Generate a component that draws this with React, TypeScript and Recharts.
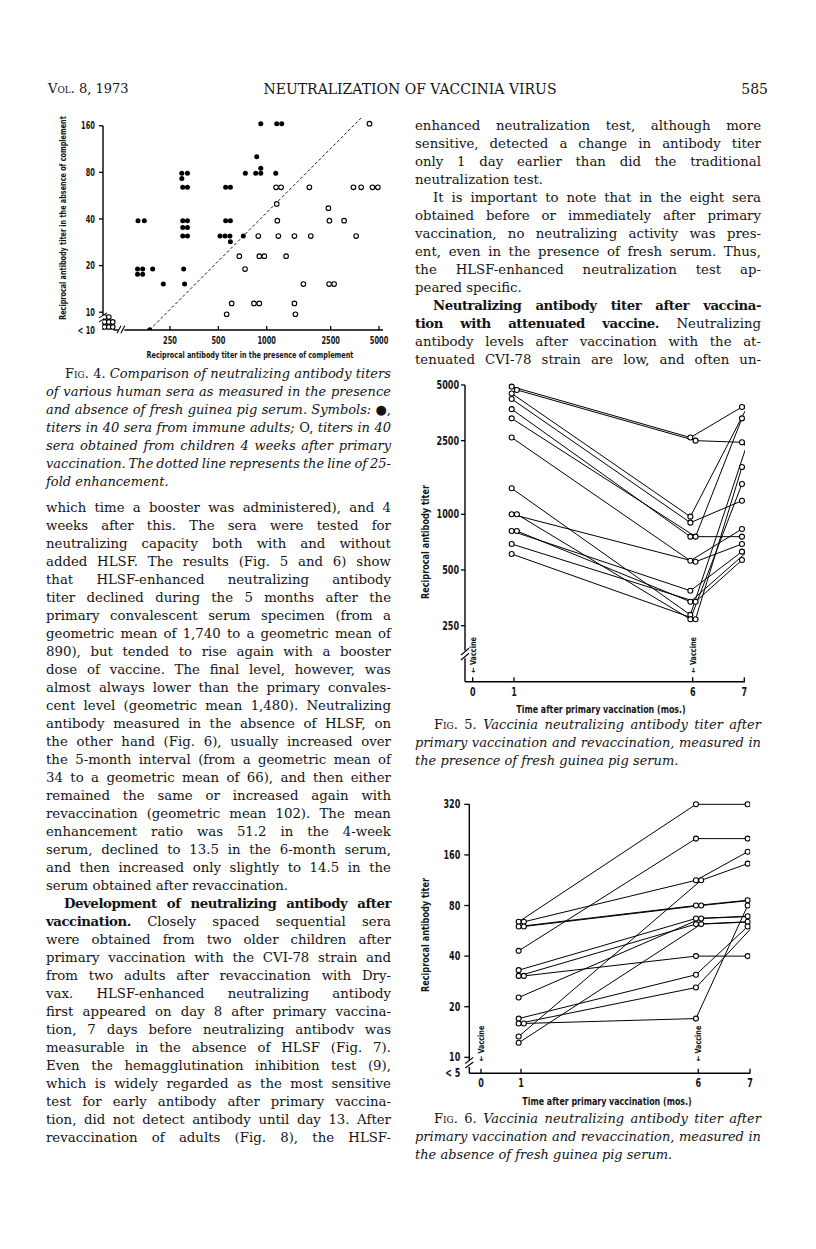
import React from "react";
import { ScatterChart, Scatter, XAxis, YAxis, ReferenceLine } from "recharts";

const SERIF = '"DejaVu Serif", "Liberation Serif", serif';
const NARROW = '"Liberation Sans Narrow", "DejaVu Sans Condensed", sans-serif';
const INK = "#141414";
const L2 = (v: number) => Math.log2(v);

// ---------------- Fig. 4 data ----------------
const fig4XTicks = [250, 500, 1000, 2500, 5000];
const fig4YTicks = [10, 20, 40, 80, 160];
const LT10 = 7.7; // "<10" row
const adultPresence = [158, 173, 157, 169, 157, 169, 195, 227, 187, 296, 321, 296, 300, 321, 300, 321, 300, 321, 300, 321, 304, 308, 512, 550, 590, 594, 555, 594, 555, 594, 715, 736, 866, 854, 918, 918, 918, 1138, 1154, 1240];
const adultAbsence = [39, 39, 19, 19, 17.6, 17.6, 19, 15.2, LT10, 79, 79, 73, 64, 64, 39, 39, 35.3, 35.3, 31, 31, 19, 15.2, 31, 31, 31, 28.5, 39, 39, 64, 64, 31, 79, 101, 79, 79, 85, 165, 79, 165, 165];
const childPresence = [563, 605, 675, 733, 833, 899, 886, 899, 966, 1143, 1228, 1154, 1164, 1181, 1320, 1487, 1508, 1487, 1691, 1843, 1880, 2420, 2445, 2627, 2456, 3031, 3602, 3466, 3870, 4550, 4918, 4360, 98, 104, 98, 104, 110, 98, 104, 110];
const childAbsence = [9.7, 11.4, 23, 19, 11.4, 11.4, 31, 23, 23, 64, 64, 50, 39, 31, 23, 11.4, 9.7, 31, 15.2, 64, 31, 47, 15.2, 15.2, 39, 39, 31, 64, 64, 64, 64, 165, 9.3, 9.3, 8.65, 8.65, 8.65, 8.03, 8.03, 8.03];
const fig4EnhStart = [187, LT10];
const fig4EnhEnd = [3900, 181];

// ---------------- Fig. 5 / Fig. 6 data ----------------
const monthTicks = [0, 1, 6, 7];
const fig5YTicks = [250, 500, 1000, 2500, 5000];
const fig5Month1 = [4900, 4700, 4500, 4200, 3700, 3300, 2600, 1382, 1000, 1000, 812, 812, 691, 610];
const fig5Month6 = [2600, 2500, 971, 901, 757, 757, 561, 286, 554, 271, 386, 337, 337, 271];
const fig5Month7 = [3800, 2450, 3800, 1184, 757, 3300, 833, 2400, 691, 1458, 628, 628, 566, 1800];

const fig6YTicks = [10, 20, 40, 80, 160, 320];
const fig6Month1 = [64, 64, 60, 60, 43, 33, 30.5, 30.5, 22.7, 17, 15.9, 15.9, 13.3, 12.2];
const fig6Month6 = [320, 113, 80, 80, 200, 67, 62, 40, 67, 31, 26, 17, 113, 62];
const fig6Month7 = [320, 167, 86, 86, 200, 69, 64, 40, 69, 60, 60, 80, 142, 64];

// ---------------- text ----------------
type Ln = { t: string; j?: boolean; ind?: number };
const leftCaption: Ln[] = [
  { t: "^^Fig.^^~~ 4.~~ Comparison of neutralizing antibody titers", j: true, ind: 19 },
  { t: "of various human sera as measured in the presence", j: true },
  { t: "and absence of fresh guinea pig serum. Symbols: ~~\u25CF,~~", j: true },
  { t: "titers in 40 sera from immune adults; ~~O,~~ titers in 40", j: true },
  { t: "sera obtained from children 4 weeks after primary", j: true },
  { t: "vaccination. The dotted line represents the line of 25-", j: true },
  { t: "fold enhancement." },
];
const leftBody: Ln[] = [
  { t: "which time a booster was administered), and 4", j: true },
  { t: "weeks after this. The sera were tested for", j: true },
  { t: "neutralizing capacity both with and without", j: true },
  { t: "added HLSF. The results (Fig. 5 and 6) show", j: true },
  { t: "that HLSF-enhanced neutralizing antibody", j: true },
  { t: "titer declined during the 5 months after the", j: true },
  { t: "primary convalescent serum specimen (from a", j: true },
  { t: "geometric mean of 1,740 to a geometric mean of", j: true },
  { t: "890), but tended to rise again with a booster", j: true },
  { t: "dose of vaccine. The final level, however, was", j: true },
  { t: "almost always lower than the primary convales-", j: true },
  { t: "cent level (geometric mean 1,480). Neutralizing", j: true },
  { t: "antibody measured in the absence of HLSF, on", j: true },
  { t: "the other hand (Fig. 6), usually increased over", j: true },
  { t: "the 5-month interval (from a geometric mean of", j: true },
  { t: "34 to a geometric mean of 66), and then either", j: true },
  { t: "remained the same or increased again with", j: true },
  { t: "revaccination (geometric mean 102). The mean", j: true },
  { t: "enhancement ratio was 51.2 in the 4-week", j: true },
  { t: "serum, declined to 13.5 in the 6-month serum,", j: true },
  { t: "and then increased only slightly to 14.5 in the", j: true },
  { t: "serum obtained after revaccination." },
  { t: "**Development of neutralizing antibody after**", j: true, ind: 18 },
  { t: "**vaccination.** Closely spaced sequential sera", j: true },
  { t: "were obtained from two older children after", j: true },
  { t: "primary vaccination with the CVI-78 strain and", j: true },
  { t: "from two adults after revaccination with Dry-", j: true },
  { t: "vax. HLSF-enhanced neutralizing antibody", j: true },
  { t: "first appeared on day 8 after primary vaccina-", j: true },
  { t: "tion, 7 days before neutralizing antibodv was", j: true },
  { t: "measurable in the absence of HLSF (Fig. 7).", j: true },
  { t: "Even the hemagglutination inhibition test (9),", j: true },
  { t: "which is widely regarded as the most sensitive", j: true },
  { t: "test for early antibody after primary vaccina-", j: true },
  { t: "tion, did not detect antibody until day 13. After", j: true },
  { t: "revaccination of adults (Fig. 8), the HLSF-", j: true },
];
const rightTop: Ln[] = [
  { t: "enhanced neutralization test, although more", j: true },
  { t: "sensitive, detected a change in antibody titer", j: true },
  { t: "only 1 day earlier than did the traditional", j: true },
  { t: "neutralization test." },
  { t: "It is important to note that in the eight sera", j: true, ind: 18 },
  { t: "obtained before or immediately after primary", j: true },
  { t: "vaccination, no neutralizing activity was pres-", j: true },
  { t: "ent, even in the presence of fresh serum. Thus,", j: true },
  { t: "the HLSF-enhanced neutralization test ap-", j: true },
  { t: "peared specific." },
  { t: "**Neutralizing antibody titer after vaccina-**", j: true, ind: 18 },
  { t: "**tion with attenuated vaccine.** Neutralizing", j: true },
  { t: "antibody levels after vaccination with the at-", j: true },
  { t: "tenuated CVI-78 strain are low, and often un-", j: true },
];
const fig5Caption: Ln[] = [
  { t: "^^Fig.^^~~ 5.~~ Vaccinia neutralizing antibody titer after", j: true, ind: 19 },
  { t: "primary vaccination and revaccination, measured in", j: true },
  { t: "the presence of fresh guinea pig serum." },
];
const fig6Caption: Ln[] = [
  { t: "^^Fig.^^~~ 6.~~ Vaccinia neutralizing antibody titer after", j: true, ind: 19 },
  { t: "primary vaccination and revaccination, measured in", j: true },
  { t: "the absence of fresh guinea pig serum." },
];

// ---------------- text rendering ----------------
type Run = { t: string; b: boolean; up: boolean; sc: boolean };
function parse(line: string): Run[][] {
  const words: Run[][] = [];
  let cur: Run[] = [];
  let b = false, up = false, sc = false, buf = "";
  const flush = () => { if (buf) { cur.push({ t: buf, b, up, sc }); buf = ""; } };
  for (let i = 0; i < line.length; i++) {
    const two = line.slice(i, i + 2);
    if (two === "**") { flush(); b = !b; i++; continue; }
    if (two === "~~") { flush(); up = !up; i++; continue; }
    if (two === "^^") { flush(); sc = !sc; i++; continue; }
    const ch = line[i];
    if (ch === " ") { flush(); if (cur.length) words.push(cur); cur = []; continue; }
    buf += ch;
  }
  flush();
  if (cur.length) words.push(cur);
  return words;
}

function TextBlock({ lines, x, y0, w, italic, size }: { lines: Ln[]; x: number; y0: number; w: number; italic?: boolean; size: number }) {
  return (
    <>
      {lines.map((ln, k) => {
        const words = parse(ln.t);
        const ind = ln.ind || 0;
        const runEl = (r: Run, i: number) => (
          <span
            key={i}
            style={{
              fontWeight: r.b ? "bold" : "normal",
              letterSpacing: r.b ? "-0.45px" : undefined,
              fontStyle: italic && !r.up && !r.sc ? "italic" : "normal",
              fontVariant: r.sc ? "small-caps" : "normal",
            }}
          >
            {r.t}
          </span>
        );
        const style: React.CSSProperties = {
          position: "absolute",
          left: x + ind,
          top: y0 + k * 18 - 9,
          width: w - ind,
          height: 18,
          lineHeight: "18px",
          fontFamily: SERIF,
          fontSize: size,
          whiteSpace: "nowrap",
          color: INK,
        };
        if (ln.j) {
          return (
            <div key={k} style={{ ...style, display: "flex", justifyContent: "space-between" }}>
              {words.map((wd, i) => <span key={i}>{wd.map(runEl)}</span>)}
            </div>
          );
        }
        return (
          <div key={k} style={style}>
            {words.map((wd, i) => (
              <React.Fragment key={i}>{i > 0 ? " " : ""}{wd.map(runEl)}</React.Fragment>
            ))}
          </div>
        );
      })}
    </>
  );
}

function AxisTitle({ text, cx, cy, size, rotate, sx }: { text: string; cx: number; cy: number; size: number; rotate?: boolean; sx: number }) {
  return (
    <div
      style={{
        position: "absolute",
        left: cx - 150,
        top: cy - 8,
        width: 300,
        height: 16,
        lineHeight: "16px",
        textAlign: "center",
        fontFamily: NARROW,
        fontWeight: "bold",
        fontSize: size,
        color: INK,
        whiteSpace: "nowrap",
        transform: (rotate ? "rotate(-90deg) " : "") + `scale(${sx},1)`,
      }}
    >
      {text}
    </div>
  );
}

// ---------------- chart helpers ----------------
const openDot = (r: number) => (p: any) => <circle cx={p.cx} cy={p.cy} r={r} fill="#fff" stroke="#000" strokeWidth={1.1} />;
const fullDot = (r: number) => (p: any) => <circle cx={p.cx} cy={p.cy} r={r} fill="#000" />;
const noDot = () => <g />;

const makeYTick = (fs: number, sx: number, len: number, gap: number, bottom: number, bottomLabel: string) => (p: any) => {
  const v = p.payload.value;
  const isBottom = Math.abs(v - bottom) < 1e-6;
  const lab = isBottom ? bottomLabel : String(Math.round(Math.pow(2, v)));
  return (
    <g>
      {!isBottom && <line x1={p.x - len} x2={p.x} y1={p.y} y2={p.y} stroke="#000" strokeWidth={1.3} />}
      <text transform={`translate(${p.x - len - gap},${p.y}) scale(${sx},1)`} dy="0.36em" textAnchor="end" fontFamily={NARROW} fontWeight="bold" fontSize={fs} fill={INK}>
        {lab}
      </text>
    </g>
  );
};
const makeXTick = (fs: number, sx: number, len: number, dy: number, fmt: (v: number) => string) => (p: any) => (
  <g>
    <line x1={p.x} x2={p.x} y1={p.y} y2={p.y - len} stroke="#000" strokeWidth={1.3} />
    <text transform={`translate(${p.x},${p.y + dy}) scale(${sx},1)`} textAnchor="middle" fontFamily={NARROW} fontWeight="bold" fontSize={fs} fill={INK}>
      {fmt(p.payload.value)}
    </text>
  </g>
);

const seg = (x1: number, y1: number, x2: number, y2: number, k: string, w = 1.4) => (
  <ReferenceLine key={k} segment={[{ x: x1, y: y1 }, { x: x2, y: y2 }]} stroke="#000" strokeWidth={w} ifOverflow="visible" />
);

// ---------------- Fig. 4 ----------------
function Fig4() {
  const xd: [number, number] = [6.58, 12.37];
  const yd: [number, number] = [2.94, 7.66];
  const adults = adultPresence.map((v, i) => ({ x: L2(v), y: L2(adultAbsence[i]) }));
  const kids = childPresence.map((v, i) => ({ x: L2(v), y: L2(childAbsence[i]) }));
  const xTickFmt = (v: number) => String(Math.round(Math.pow(2, v) / 10) * 10);
  return (
    <div style={{ position: "absolute", left: 0, top: 0 }}>
      <ScatterChart width={400} height={380} margin={{ top: 110, right: 17, bottom: 20, left: 53 }}>
        <XAxis type="number" dataKey="x" domain={xd} allowDataOverflow ticks={fig4XTicks.map(L2)} interval={0} height={30} tickSize={0} tickMargin={0} axisLine={false} tickLine={false} tick={makeXTick(10, 0.74, 4, 14, xTickFmt)} />
        <YAxis type="number" dataKey="y" domain={yd} allowDataOverflow ticks={[yd[0], ...fig4YTicks.map(L2)]} interval={0} width={50} tickSize={0} tickMargin={0} axisLine={false} tickLine={false} tick={makeYTick(10, 0.74, 4, 4, yd[0], "< 10")} />
        {seg(xd[0], L2(160), xd[0], 3.26, "ya")}
        {seg(6.497, 3.2, 6.663, 3.307, "yb1", 1.1)}
        {seg(6.497, 3.114, 6.663, 3.221, "yb2", 1.1)}
        {seg(xd[0], 3.136, xd[0], yd[0], "yc")}
        {seg(6.8, yd[0], 6.9, yd[0], "xd")}
        {seg(6.87, 2.87, 6.95, 3.03, "xb1", 1.1)}
        {seg(6.95, 2.87, 7.03, 3.03, "xb2", 1.1)}
        {seg(7.02, yd[0], xd[1], yd[0], "xa")}
        <ReferenceLine segment={[{ x: L2(fig4EnhStart[0]), y: L2(fig4EnhStart[1]) }, { x: L2(fig4EnhEnd[0]), y: L2(fig4EnhEnd[1]) }]} stroke="#000" strokeWidth={0.9} strokeDasharray="3 2.2" ifOverflow="visible" />
        <Scatter data={kids} shape={openDot(2.3)} isAnimationActive={false} />
        <Scatter data={adults} shape={fullDot(2.5)} isAnimationActive={false} />
      </ScatterChart>
    </div>
  );
}

// ---------------- Fig. 5 / 6 ----------------
function layoutCols(values: number[], thr: number) {
  const cols: number[] = [];
  values.forEach((v, i) => {
    let c = 0;
    while (values.slice(0, i).some((w, j) => cols[j] === c && Math.abs(L2(v) - L2(w)) < thr)) c++;
    cols.push(c);
  });
  return cols;
}

type SerumCfg = {
  left: number; top: number; width: number; height: number;
  margin: { top: number; right: number; bottom: number; left: number };
  xDomain: [number, number]; yDomain: [number, number];
  monthPos: number[]; yTicks: number[]; bottomLabel: string;
  m1: number[]; m6: number[]; m7: number[];
  yAxisTop: number; breakHi: number; breakLo: number; slash: [number, number][];
  yTickLen: number; yTickGap: number; xTickDy: number;
  vaccineLift: number;
};

function VaccineLabel(props: any) {
  const vb = props.viewBox || {};
  const x = vb.x;
  const yb = vb.y + vb.height - props.lift;
  return (
    <text transform={`translate(${x + 3},${yb}) rotate(-90) scale(0.85,1)`} fontFamily={NARROW} fontWeight="bold" fontSize={8.5} fill={INK}>
      {"\u2190 Vaccine"}
    </text>
  );
}

function SerumChart({ c }: { c: SerumCfg }) {
  const pos = (m: number) => c.monthPos[monthTicks.indexOf(m)];
  const thr = 0.07;
  const c1 = layoutCols(c.m1, thr), c6 = layoutCols(c.m6, thr), c7 = layoutCols(c.m7, thr);
  const dx = (col: number) => (col - 0.45) * 5.2;
  const sera = c.m1.map((v, i) => [
    { x: pos(1) + dx(c1[i]), y: L2(v) },
    { x: pos(6) + dx(c6[i]), y: L2(c.m6[i]) },
    { x: pos(7) + dx(c7[i]), y: L2(c.m7[i]) },
  ]);
  const allPts = sera.flat();
  const x0 = c.xDomain[0];
  return (
    <div style={{ position: "absolute", left: c.left, top: c.top }}>
      <ScatterChart width={c.width} height={c.height} margin={c.margin}>
        <XAxis type="number" dataKey="x" domain={c.xDomain} allowDataOverflow ticks={c.monthPos} interval={0} height={20} tickSize={0} tickMargin={0} axisLine={false} tickLine={false}
          tick={makeXTick(11.5, 0.78, 4.5, c.xTickDy, (v) => String(monthTicks[c.monthPos.indexOf(v)]))} />
        <YAxis type="number" dataKey="y" domain={c.yDomain} allowDataOverflow ticks={[c.yDomain[0], ...c.yTicks.map(L2)]} interval={0} width={50} tickSize={0} tickMargin={0} axisLine={false} tickLine={false}
          tick={makeYTick(11.5, 0.78, c.yTickLen, c.yTickGap, c.yDomain[0], c.bottomLabel)} />
        {seg(x0, L2(c.yAxisTop), x0, c.breakHi, "ya")}
        {c.slash.map((s, i) => seg(x0 - 4, s[0], x0 + 4, s[1], "sl" + i, 1.1))}
        {seg(x0, c.breakLo, x0, c.yDomain[0], "yb")}
        {seg(x0, c.yDomain[0], c.xDomain[1], c.yDomain[0], "xa")}
        <ReferenceLine x={pos(0)} stroke="none" ifOverflow="visible" label={(p: any) => <VaccineLabel {...p} lift={c.vaccineLift} />} />
        <ReferenceLine x={pos(6)} stroke="none" ifOverflow="visible" label={(p: any) => <VaccineLabel {...p} lift={c.vaccineLift} />} />
        {sera.map((pts, i) => (
          <Scatter key={i} data={pts} line={{ stroke: "#000", strokeWidth: 1 }} shape={noDot} isAnimationActive={false} />
        ))}
        <Scatter data={allPts} shape={openDot(2.5)} isAnimationActive={false} />
      </ScatterChart>
    </div>
  );
}

const fig5Cfg: SerumCfg = {
  left: 410, top: 370, width: 360, height: 340,
  margin: { top: 10, right: 25, bottom: 8.3, left: 5 },
  xDomain: [0, 280], yDomain: [6.96, 12.377],
  monthPos: [7.7, 49, 227.7, 279.3], yTicks: fig5YTicks, bottomLabel: "",
  m1: fig5Month1, m6: fig5Month6, m7: fig5Month7,
  yAxisTop: 5000, breakHi: 7.52, breakLo: 7.38, slash: [[7.44, 7.56], [7.35, 7.47]],
  yTickLen: 4, yTickGap: 2, xTickDy: 14.5, vaccineLift: 9,
};
const fig6Cfg: SerumCfg = {
  left: 410, top: 780, width: 360, height: 320,
  margin: { top: 15, right: 19.7, bottom: 6.7, left: 9.3 },
  xDomain: [0, 281], yDomain: [3.006, 8.506],
  monthPos: [11.7, 51.7, 229, 280.7], yTicks: fig6YTicks, bottomLabel: "< 5",
  m1: fig6Month1, m6: fig6Month6, m7: fig6Month7,
  yAxisTop: 320, breakHi: 3.27, breakLo: 3.13, slash: [[3.2, 3.32], [3.11, 3.23]],
  yTickLen: 5, yTickGap: 4, xTickDy: 14, vaccineLift: 12,
};

export default function App() {
  return (
    <div style={{ position: "absolute", left: 0, top: 0, width: 816, height: 1249, background: "#fff", overflow: "hidden" }}>
      {/* running head */}
      <div style={{ position: "absolute", left: 48, top: 81, fontFamily: SERIF, fontSize: 13, color: INK, fontVariant: "small-caps", whiteSpace: "nowrap" }}>Vol. 8, 1973</div>
      <div style={{ position: "absolute", left: 210, top: 81, width: 400, textAlign: "center", fontFamily: SERIF, fontSize: 14, color: INK, whiteSpace: "nowrap" }}>NEUTRALIZATION OF VACCINIA VIRUS</div>
      <div style={{ position: "absolute", left: 668, top: 81, width: 100, textAlign: "right", fontFamily: SERIF, fontSize: 14, color: INK }}>585</div>

      <Fig4 />
      <AxisTitle text="Reciprocal antibody titer in the absence of complement" cx={63} cy={218} size={9} rotate sx={0.8} />
      <AxisTitle text="Reciprocal antibody titer in the presence of complement" cx={250} cy={355} size={9} sx={0.8} />

      <TextBlock lines={leftCaption} x={46} y0={374} w={345} italic size={13} />
      <TextBlock lines={leftBody} x={46} y0={508} w={345} size={13.3} />
      <TextBlock lines={rightTop} x={415} y0={126} w={346} size={13.3} />

      <SerumChart c={fig5Cfg} />
      <AxisTitle text="Reciprocal antibody titer" cx={425} cy={542} size={10.5} rotate sx={0.86} />
      <AxisTitle text="Time after primary vaccination (mos.)" cx={601} cy={710} size={11} sx={0.8} />
      <TextBlock lines={fig5Caption} x={415} y0={725} w={346} italic size={13} />

      <SerumChart c={fig6Cfg} />
      <AxisTitle text="Reciprocal antibody titer" cx={425} cy={935} size={10.5} rotate sx={0.86} />
      <AxisTitle text="Time after primary vaccination (mos.)" cx={607} cy={1102} size={11} sx={0.8} />
      <TextBlock lines={fig6Caption} x={415} y0={1119} w={346} italic size={13} />
    </div>
  );
}
